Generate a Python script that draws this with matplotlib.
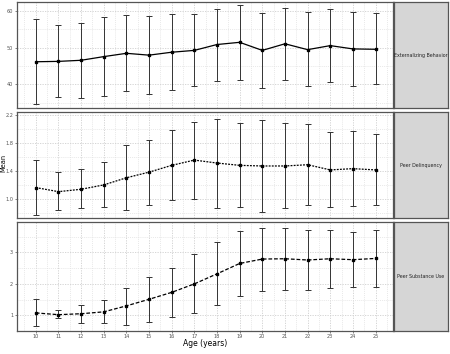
import matplotlib
matplotlib.use("Agg")
import matplotlib.pyplot as plt
import numpy as np
from matplotlib.ticker import FixedLocator

ages = list(range(10, 26))

ext_mean = [46.2, 46.3, 46.6, 47.6, 48.5, 48.0, 48.8, 49.3, 50.9, 51.5, 49.3, 51.1, 49.5, 50.6, 49.7, 49.6]
ext_upper = [57.8, 56.1, 56.9, 58.4, 58.9, 58.6, 59.1, 59.3, 60.7, 61.7, 59.5, 60.9, 59.8, 60.5, 59.8, 59.5]
ext_lower = [34.6, 36.5, 36.3, 36.8, 38.1, 37.3, 38.6, 39.5, 41.0, 41.3, 39.0, 41.2, 39.5, 40.8, 39.7, 40.1]

del_mean = [1.158, 1.10, 1.134, 1.196, 1.298, 1.378, 1.475, 1.55, 1.508, 1.475, 1.466, 1.466, 1.484, 1.41, 1.428, 1.41]
del_upper = [1.55, 1.378, 1.42, 1.526, 1.764, 1.834, 1.979, 2.10, 2.14, 2.08, 2.127, 2.08, 2.067, 1.95, 1.97, 1.918]
del_lower = [0.77, 0.836, 0.86, 0.874, 0.832, 0.916, 0.976, 0.995, 0.87, 0.883, 0.81, 0.86, 0.916, 0.874, 0.892, 0.906]

sub_mean = [1.076, 1.02, 1.05, 1.11, 1.30, 1.51, 1.73, 2.00, 2.32, 2.65, 2.79, 2.80, 2.76, 2.80, 2.77, 2.81]
sub_upper = [1.51, 1.16, 1.33, 1.48, 1.88, 2.21, 2.52, 2.94, 3.32, 3.69, 3.79, 3.79, 3.70, 3.73, 3.65, 3.73]
sub_lower = [0.66, 0.90, 0.77, 0.75, 0.70, 0.80, 0.96, 1.08, 1.34, 1.63, 1.78, 1.81, 1.80, 1.88, 1.89, 1.90]

panel_names = ["Externalizing Behavior", "Peer Delinquency", "Peer Substance Use"]
ext_ticks = [40, 50, 60]
del_ticks = [1.0, 1.4, 1.8, 2.2]
sub_ticks = [1, 2, 3]
x_label = "Age (years)"
y_label = "Mean"

W, H = 450, 354
fig = plt.figure(figsize=(4.5, 3.54), dpi=100)

def fx(px):
    return px / W

def fy(py):
    return 1 - py / H

panels = [
    dict(mean=ext_mean, up=ext_upper, lo=ext_lower, top=2, bot=108.3,
         ylim=(33.5, 62.5), ticks=ext_ticks, ls="-", fmt="{:.0f}"),
    dict(mean=del_mean, up=del_upper, lo=del_lower, top=111.7, bot=218.3,
         ylim=(0.72, 2.24), ticks=del_ticks, ls=(0, (1.5, 1.0)), fmt="{:.1f}"),
    dict(mean=sub_mean, up=sub_upper, lo=sub_lower, top=222.3, bot=330.7,
         ylim=(0.51, 3.96), ticks=sub_ticks, ls=(0, (3, 1.5)), fmt="{:.0f}"),
]

left_px, right_px = 17, 393
strip_l, strip_r = 393.5, 448
border_col = "#555555"

for i, p in enumerate(panels):
    ax = fig.add_axes([fx(left_px), fy(p["bot"]), fx(right_px - left_px), (p["bot"] - p["top"]) / H])
    x = np.array(ages)
    m = np.array(p["mean"])
    up = np.array(p["up"])
    lo = np.array(p["lo"])
    ax.errorbar(x, m, yerr=[m - lo, up - m], fmt="none", ecolor="#333333",
                elinewidth=0.7, capsize=2.5, capthick=0.7, zorder=3)
    ax.plot(x, m, color="black", lw=0.9, ls=p["ls"], zorder=4)
    ax.plot(x, m, "s", color="black", ms=2.0, zorder=5)
    ax.set_xlim(9.17, 25.77)
    ax.set_ylim(*p["ylim"])
    t = p["ticks"]
    step = t[1] - t[0]
    minors = [v - step / 2 for v in t] + [t[-1] + step / 2]
    minors = [v for v in minors if p["ylim"][0] <= v <= p["ylim"][1]]
    ax.set_xticks(ages)
    ax.xaxis.set_minor_locator(FixedLocator([a + 0.5 for a in [9] + ages]))
    ax.set_yticks(t)
    ax.set_yticklabels([p["fmt"].format(v) for v in t])
    ax.yaxis.set_minor_locator(FixedLocator(minors))
    ax.grid(which="major", color="#cfcfcf", lw=0.6, ls=(0, (1.5, 1.5)))
    ax.grid(which="minor", color="#e0e0e0", lw=0.5, ls=(0, (1.5, 1.5)))
    ax.set_axisbelow(True)
    for s in ax.spines.values():
        s.set_color(border_col)
        s.set_linewidth(0.9)
    ax.tick_params(axis="both", which="major", labelsize=3.6, colors="#555555",
                   length=1.5, width=0.5, pad=1.2)
    ax.tick_params(axis="both", which="minor", length=0)
    if i < 2:
        ax.tick_params(axis="x", labelbottom=False, length=0)
    else:
        ax.set_xticklabels([str(a) for a in ages])
    # strip
    sax = fig.add_axes([fx(strip_l), fy(p["bot"]), fx(strip_r - strip_l), (p["bot"] - p["top"]) / H])
    sax.set_facecolor("#d6d6d6")
    sax.set_xticks([])
    sax.set_yticks([])
    for s in sax.spines.values():
        s.set_color(border_col)
        s.set_linewidth(0.9)
    sax.text(0.5, 0.5, panel_names[i], ha="center", va="center", fontsize=3.4,
             color="#222222", transform=sax.transAxes)

fig.text(fx(205), fy(344), x_label, ha="center", va="center", fontsize=5.5, color="black")
fig.text(fx(3), fy(163), y_label, ha="center", va="center", fontsize=4.8, rotation=90, color="black")

fig.savefig("out.png", dpi=100, facecolor="white")
